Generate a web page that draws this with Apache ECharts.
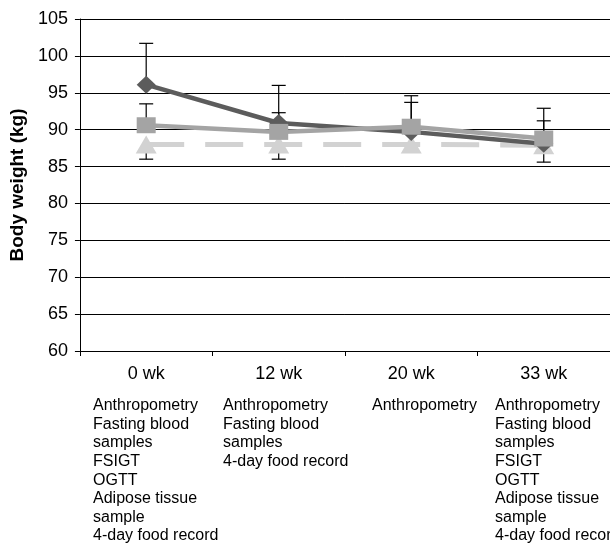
<!DOCTYPE html>
<html>
<head>
<meta charset="utf-8">
<script src="https://cdn.jsdelivr.net/npm/echarts@6/dist/echarts.min.js"></script>
<style>html,body{margin:0;padding:0;background:#fff;}#c{width:610px;height:543px;}</style>
</head>
<body>
<div id="c"></div>
<script>
var categories = ['0 wk', '12 wk', '20 wk', '33 wk'];
var yTicks = [60, 65, 70, 75, 80, 85, 90, 95, 100, 105];

var diamondValues = [96.1, 90.9, 89.7, 88.1];
var diamondUpper  = [101.7, 96.0, 94.6, 92.9];

var squareValues = [90.6, 89.7, 90.4, 88.8];
var squareUpper  = [93.5, 92.3, 93.7, 91.2];

var triangleValues = [88.0, 88.0, 88.0, 87.9];
var triangleLower  = [86.0, 86.0, null, 85.6];

var measurements = [
  ['Anthropometry', 'Fasting blood', 'samples', 'FSIGT', 'OGTT', 'Adipose tissue', 'sample', '4-day food record'],
  ['Anthropometry', 'Fasting blood', 'samples', '4-day food record'],
  ['Anthropometry'],
  ['Anthropometry', 'Fasting blood', 'samples', 'FSIGT', 'OGTT', 'Adipose tissue', 'sample', '4-day food record']
];
var measurementLeft = [93, 223, 372, 495];

var FONT = 'Liberation Sans, Arial, sans-serif';

function errData(vals, ends) {
  var out = [];
  for (var i = 0; i < vals.length; i++) {
    if (ends[i] != null) out.push([i, vals[i], ends[i]]);
  }
  return out;
}

function errRender(params, api) {
  var x = api.value(0);
  var p0 = api.coord([x, api.value(1)]);
  var p1 = api.coord([x, api.value(2)]);
  var hw = 7;
  var st = {stroke: '#000', lineWidth: 1.2};
  return {
    type: 'group',
    children: [
      {type: 'line', shape: {x1: p0[0], y1: p0[1], x2: p1[0], y2: p1[1]}, style: st},
      {type: 'line', shape: {x1: p1[0] - hw, y1: p1[1], x2: p1[0] + hw, y2: p1[1]}, style: st}
    ]
  };
}

var chart = echarts.init(document.getElementById('c'), null, {renderer: 'canvas'});

var graphics = [];
for (var i = 0; i < measurements.length; i++) {
  graphics.push({
    type: 'text',
    x: measurementLeft[i],
    y: 396.5,
    silent: true,
    style: {
      text: measurements[i].join('\n'),
      fontSize: 16,
      fontFamily: FONT,
      lineHeight: 18.6,
      fill: '#000',
      align: 'left',
      verticalAlign: 'top'
    }
  });
}

var option = {
  backgroundColor: '#fff',
  animation: false,
  grid: {left: 78, top: 19, width: 540, height: 332, containLabel: false},
  xAxis: {
    type: 'category',
    data: categories,
    boundaryGap: true,
    axisLine: {lineStyle: {color: '#000', width: 1}},
    axisTick: {show: true, length: 5, lineStyle: {color: '#000'}},
    axisLabel: {fontSize: 18, fontFamily: FONT, color: '#000', margin: 14},
    splitLine: {show: false}
  },
  yAxis: {
    type: 'value',
    min: yTicks[0],
    max: yTicks[yTicks.length - 1],
    interval: 5,
    name: 'Body weight (kg)',
    nameLocation: 'middle',
    nameGap: 44,
    nameTextStyle: {fontSize: 19, fontWeight: 'bold', fontFamily: FONT, color: '#000'},
    axisLine: {show: true, lineStyle: {color: '#000', width: 1}},
    axisTick: {show: true, length: 5, lineStyle: {color: '#000'}},
    axisLabel: {fontSize: 18, fontFamily: FONT, color: '#000', margin: 12},
    splitLine: {show: true, lineStyle: {color: '#000', width: 1}}
  },
  graphic: graphics,
  series: [
    {
      type: 'custom', name: 'errDiamond', renderItem: errRender, z: 1,
      data: errData(diamondValues, diamondUpper), encode: {x: 0, y: [1, 2]}
    },
    {
      type: 'custom', name: 'errSquare', renderItem: errRender, z: 1,
      data: errData(squareValues, squareUpper), encode: {x: 0, y: [1, 2]}
    },
    {
      type: 'custom', name: 'errTriangle', renderItem: errRender, z: 1,
      data: errData(triangleValues, triangleLower), encode: {x: 0, y: [1, 2]}
    },
    {
      type: 'line', name: 'triangle', data: triangleValues, z: 2,
      symbol: 'triangle', symbolSize: [21, 18],
      lineStyle: {color: '#d2d2d2', width: 5, type: [38, 21]},
      itemStyle: {color: '#d2d2d2'}
    },
    {
      type: 'line', name: 'diamond', data: diamondValues, z: 3,
      symbol: 'diamond', symbolSize: [19, 18],
      lineStyle: {color: '#5c5c5c', width: 4.5},
      itemStyle: {color: '#5c5c5c'}
    },
    {
      type: 'line', name: 'square', data: squareValues, z: 4,
      symbol: 'rect', symbolSize: [19, 16],
      lineStyle: {color: '#a4a4a4', width: 4.5},
      itemStyle: {color: '#a4a4a4'}
    }
  ]
};
chart.setOption(option);
</script>
</body>
</html>
